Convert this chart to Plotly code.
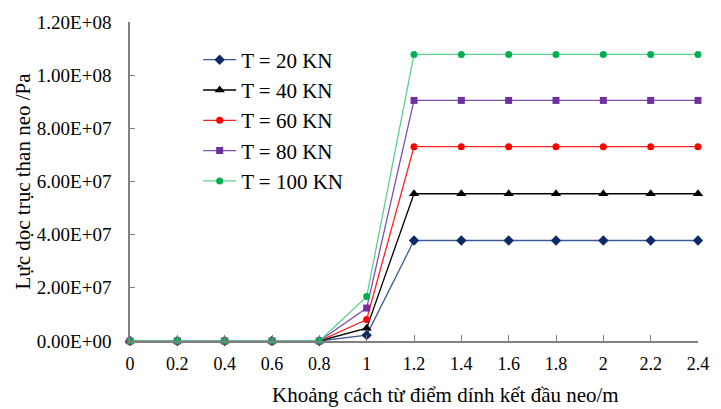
import plotly.graph_objects as go

x_vals = [0, 0.2, 0.4, 0.6, 0.8, 1.0, 1.2, 1.4, 1.6, 1.8, 2.0, 2.2, 2.4]
t20 = [0, 0, 0, 0, 0, 2.2e6, 3.78e7, 3.78e7, 3.78e7, 3.78e7, 3.78e7, 3.78e7, 3.78e7]
t40 = [0, 0, 0, 0, 0, 4.8e6, 5.54e7, 5.54e7, 5.54e7, 5.54e7, 5.54e7, 5.54e7, 5.54e7]
t60 = [0, 0, 0, 0, 0, 8.1e6, 7.31e7, 7.31e7, 7.31e7, 7.31e7, 7.31e7, 7.31e7, 7.31e7]
t80 = [0, 0, 0, 0, 0, 1.24e7, 9.05e7, 9.05e7, 9.05e7, 9.05e7, 9.05e7, 9.05e7, 9.05e7]
t100 = [0, 0, 0, 0, 0, 1.67e7, 1.078e8, 1.078e8, 1.078e8, 1.078e8, 1.078e8, 1.078e8, 1.078e8]

series_names = ["T = 20 KN", "T = 40 KN", "T = 60 KN", "T = 80 KN", "T = 100 KN"]
y_tick_vals = [0, 2e7, 4e7, 6e7, 8e7, 1e8, 1.2e8]
y_tick_text = ["0.00E+00", "2.00E+07", "4.00E+07", "6.00E+07", "8.00E+07", "1.00E+08", "1.20E+08"]
x_tick_vals = [0, 0.2, 0.4, 0.6, 0.8, 1.0, 1.2, 1.4, 1.6, 1.8, 2.0, 2.2, 2.4]
x_tick_text = ["0", "0.2", "0.4", "0.6", "0.8", "1", "1.2", "1.4", "1.6", "1.8", "2", "2.2", "2.4"]

styles = [
    dict(line="#3B5A96", marker="#0B2A66", symbol="diamond", size=8),
    dict(line="#000000", marker="#000000", symbol="triangle-up", size=9),
    dict(line="#FF2020", marker="#FF0000", symbol="circle", size=7),
    dict(line="#8050B0", marker="#7030A0", symbol="square", size=7),
    dict(line="#5FD08F", marker="#00B050", symbol="circle", size=7),
]

fig = go.Figure()
for i, (name, ys) in enumerate(zip(series_names, [t20, t40, t60, t80, t100])):
    s = styles[i]
    fig.add_trace(go.Scatter(
        x=x_vals, y=ys, name=name, mode="lines+markers",
        line=dict(color=s["line"], width=1.3),
        marker=dict(color=s["marker"], symbol=s["symbol"], size=s["size"]),
        cliponaxis=False, legendgroup=f"g{i}",
    ))

font_family = "Liberation Serif"
fig.update_layout(
    width=721, height=409,
    margin=dict(l=130, r=13, t=20, b=68),
    paper_bgcolor="white", plot_bgcolor="white",
    font=dict(family=font_family, size=17, color="#000000"),
    showlegend=True,
    legend=dict(x=0.12, y=0.945, xanchor="left", yanchor="top",
                font=dict(family=font_family, size=21, color="#000000"),
                bgcolor="rgba(0,0,0,0)", tracegroupgap=0, itemwidth=33),
    xaxis=dict(range=[0, 2.4], tickvals=x_tick_vals, ticktext=x_tick_text,
               showgrid=False, zeroline=False, showline=True,
               linecolor="#808080", linewidth=1.5,
               ticks="inside", ticklen=6, tickcolor="#808080", tickwidth=1,
               tickfont=dict(family=font_family, size=18),
               ticklabelstandoff=6),
    yaxis=dict(range=[0, 1.2e8], tickvals=y_tick_vals, ticktext=y_tick_text,
               showgrid=False, zeroline=False, showline=True,
               linecolor="#808080", linewidth=1.5,
               ticks="inside", ticklen=5, tickcolor="#808080", tickwidth=1,
               tickfont=dict(family=font_family, size=19),
               ticklabelstandoff=13),
    annotations=[
        dict(text="Khoảng cách từ điểm dính kết đầu neo/m", xref="paper", yref="paper",
             x=0.555, y=0, yshift=-40, xanchor="center", yanchor="top", showarrow=False,
             font=dict(family=font_family, size=21)),
        dict(text="Lực dọc trục than neo /Pa", xref="paper", yref="paper",
             x=0, xshift=-108, y=0.5, xanchor="center", yanchor="middle", showarrow=False,
             textangle=-90, font=dict(family=font_family, size=21)),
    ],
)

fig.write_html("out.html")
